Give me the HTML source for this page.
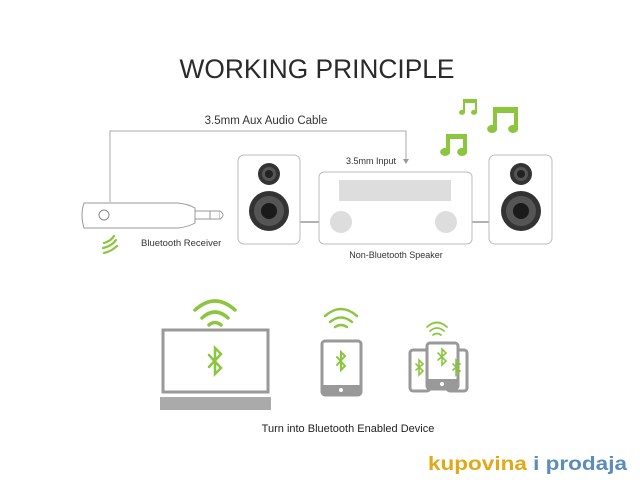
<!DOCTYPE html>
<html><head><meta charset="utf-8"><style>
html,body{margin:0;padding:0;background:#fff;}
svg{display:block;}
text{font-family:"Liberation Sans",sans-serif;}
</style></head><body>
<svg width="640" height="480" viewBox="0 0 640 480" xmlns="http://www.w3.org/2000/svg">
<rect width="640" height="480" fill="#fff"/>
<text x="317" y="78" text-anchor="middle" font-size="27" fill="#2a2a2a" textLength="275" lengthAdjust="spacingAndGlyphs">WORKING PRINCIPLE</text>

<!-- cable -->
<polyline points="110,202 110,131 406,131 406,160" fill="none" stroke="#aaa" stroke-width="1"/>
<path d="M403,159 L409,159 L406,164 Z" fill="#999"/>
<text x="266" y="124" text-anchor="middle" font-size="11.5" fill="#333">3.5mm Aux Audio Cable</text>

<!-- receiver -->
<path d="M84,203 L178,203 Q188,204 195,208 L195,223 Q188,227 178,228 L84,228 Q80,215 84,203 Z" fill="#fff" stroke="#999" stroke-width="1"/>
<rect x="195" y="211" width="25" height="8" fill="#fff" stroke="#999"/>
<path d="M220,211 Q226,215 220,219" fill="#fff" stroke="#999"/>
<line x1="210" y1="211" x2="210" y2="219" stroke="#999"/>
<circle cx="104" cy="215" r="5" fill="#fff" stroke="#888"/>
<g fill="none" stroke="#8cc63f" stroke-width="2.2" stroke-linecap="round">
<path d="M104,253 Q112,251 117,246"/>
<path d="M103,248 Q112,246 116,240"/>
<path d="M104,243 Q111,241 114,236"/>
</g>
<text x="141" y="246" font-size="9.5" fill="#333">Bluetooth Receiver</text>

<!-- speakers -->
<line x1="300" y1="222" x2="319" y2="222" stroke="#999" stroke-width="1.5"/>
<line x1="472" y1="222" x2="489" y2="222" stroke="#999" stroke-width="1.5"/>
<rect x="238" y="155" width="62" height="89" rx="6" fill="#fff" stroke="#bbb"/>
<rect x="489" y="155" width="63" height="89" rx="6" fill="#fff" stroke="#bbb"/>
<g>
<circle cx="269" cy="174" r="11" fill="#333"/><circle cx="269" cy="174" r="7" fill="#555"/><circle cx="269" cy="174" r="4" fill="#222"/>
<circle cx="269" cy="211" r="20" fill="#333"/><circle cx="269" cy="211" r="15" fill="#555"/><circle cx="269" cy="211" r="8" fill="#1a1a1a"/>
<circle cx="521" cy="174" r="11" fill="#333"/><circle cx="521" cy="174" r="7" fill="#555"/><circle cx="521" cy="174" r="4" fill="#222"/>
<circle cx="521" cy="211" r="20" fill="#333"/><circle cx="521" cy="211" r="15" fill="#555"/><circle cx="521" cy="211" r="8" fill="#1a1a1a"/>
</g>
<rect x="319" y="172" width="153" height="72" rx="5" fill="#fff" stroke="#bbb"/>
<rect x="339" y="180" width="112" height="21" fill="#ddd"/>
<circle cx="341" cy="222" r="11" fill="#ddd"/>
<circle cx="446" cy="222" r="11" fill="#ddd"/>
<text x="346" y="164" font-size="9" fill="#333">3.5mm Input</text>
<text x="396" y="258" text-anchor="middle" font-size="9" fill="#333">Non-Bluetooth Speaker</text>

<!-- notes -->
<g fill="#8cc63f">
<path d="M463,99 h14 v13 a3,2.5 0 1 1 -2,-2 v-7 h-10 v9 a3,2.5 0 1 1 -2,-2 z"/>
<path d="M493,107 h25 v21 a5,4 0 1 1 -4,-3 v-12 h-17 v15 a5,4 0 1 1 -4,-3 z"/>
<path d="M446,134 h21 v17 a5,4 0 1 1 -4,-3 v-9 h-13 v12 a5,4 0 1 1 -4,-3 z"/>
</g>

<!-- laptop -->
<rect x="163" y="330" width="105" height="62" fill="#fff" stroke="#999" stroke-width="3"/>
<rect x="160" y="397" width="111" height="13" fill="#aaa"/>
<!-- tablet -->
<rect x="322" y="341" width="39" height="54" rx="3" fill="#fff" stroke="#999" stroke-width="3"/>
<rect x="322" y="385" width="39" height="10" fill="#999"/>
<circle cx="341" cy="390" r="2" fill="#fff"/>
<!-- phones -->
<rect x="410" y="350" width="20" height="41" rx="3" fill="#fff" stroke="#999" stroke-width="3"/>
<rect x="447" y="350" width="20" height="41" rx="3" fill="#fff" stroke="#999" stroke-width="3"/>
<rect x="427" y="343" width="31" height="46" rx="3" fill="#fff" stroke="#999" stroke-width="3"/>
<rect x="427" y="379" width="31" height="10" fill="#999"/>
<circle cx="442" cy="384" r="2" fill="#fff"/>

<g fill="none" stroke="#8cc63f" stroke-linecap="round">
<g stroke-width="3.5">
<path d="M195,310 Q215,292 235,310"/>
<path d="M202,318 Q215,306 228,318"/>
<path d="M209,325 Q215,320 221,325"/>
</g>
<g stroke-width="2.5">
<path d="M325,316 Q341,302 357,316"/>
<path d="M330,322 Q341,313 352,322"/>
<path d="M335,327 Q341,323 347,327"/>
</g>
<g stroke-width="1.8">
<path d="M427,327 Q437,318 447,327"/>
<path d="M430,331 Q437,325 444,331"/>
<path d="M433,335 Q437,332 441,335"/>
</g>
<!-- bluetooth symbols -->
<path d="M209,355 L221,368 L215,374 L215,348 L221,354 L209,367" stroke-width="2.5"/>
<path d="M337,357 L345,366 L341,370 L341,352 L345,356 L337,365" stroke-width="2"/>
<path d="M438,353 L446,361 L442,365 L442,349 L446,353 L438,360" stroke-width="1.6"/>
<path d="M416,364 L423,371 L419,375 L419,360 L423,364 L416,370" stroke-width="1.6"/>
<path d="M453,364 L460,371 L456,375 L456,360 L460,364 L453,370" stroke-width="1.6"/>
</g>
<text x="348" y="432" text-anchor="middle" font-size="11" fill="#222">Turn into Bluetooth Enabled Device</text>

<text x="428" y="470" font-size="19" font-weight="bold" textLength="199" lengthAdjust="spacingAndGlyphs"><tspan fill="#e2a817">kupovina</tspan><tspan fill="#5c8cbb"> i prodaja</tspan></text>
</svg>
</body></html>
